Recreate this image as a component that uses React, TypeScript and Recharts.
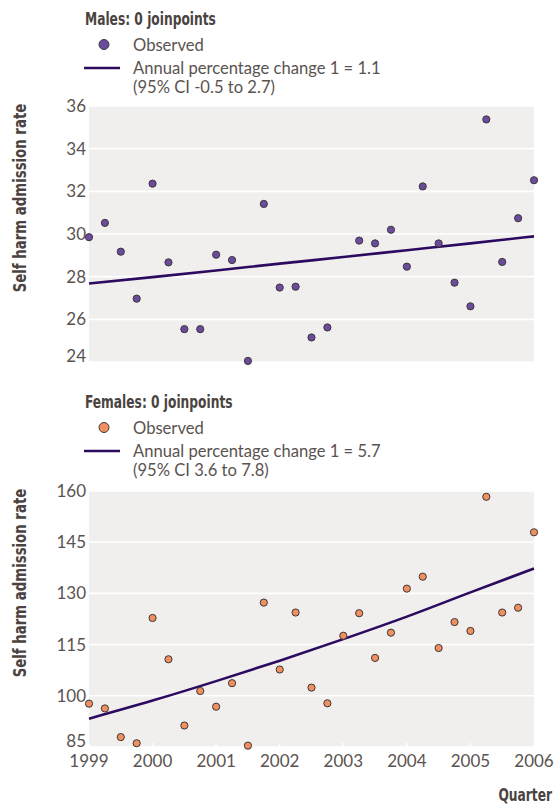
import React from 'react';
import { ComposedChart, Scatter, Line, XAxis, YAxis, CartesianGrid } from 'recharts';

// quarterly rates, 1999 Q1 .. 2006 Q1 (null = not shown)
const maleRates: (number | null)[] = [
  29.85, 30.52, 29.17, 26.97, 32.36, 28.67, 25.54, 25.54, 29.03, 28.78,
  24.05, 31.41, 27.49, 27.53, 25.15, 25.62, null, 29.69, 29.56, 30.2,
  28.47, 32.23, 29.56, 27.72, 26.61, 35.37, 28.69, 30.74, 32.52,
];
const femaleRates: number[] = [
  97.7, 96.3, 87.9, 86.1, 122.8, 110.7, 91.3, 101.4, 96.8, 103.7,
  85.4, 127.3, 107.7, 124.4, 102.4, 97.8, 117.6, 124.2, 111.1, 118.5,
  131.4, 134.9, 114.0, 121.6, 119.0, 158.3, 124.4, 125.8, 147.9,
];

const years = [1999, 2000, 2001, 2002, 2003, 2004, 2005, 2006];
// fitted joinpoint line, read at each year
const maleFit = [27.68, 27.98, 28.29, 28.61, 28.92, 29.24, 29.56, 29.89];
const femaleFit = [93.3, 98.6, 104.3, 110.3, 116.6, 123.2, 130.3, 137.3];

const maleTicks = [24, 26, 28, 30, 32, 34, 36];
const femaleTicks = [85, 100, 115, 130, 145, 160];

const TEXT = '#5a5350';
const DARK = '#4a4340';
const LINE = '#2c0a5f';
const PLOT_BG = '#f0efee';
const FONT = 'Lato, "Open Sans", sans-serif';
const BOLD = '"DejaVu Sans Condensed", "DejaVu Sans", sans-serif';

const toPoints = (rates: (number | null)[]) =>
  rates
    .map((v, i) => ({ t: 1999 + i / 4, v }))
    .filter((d) => d.v !== null);

const toFit = (vals: number[]) => years.map((y, i) => ({ t: y, v: vals[i] }));

function Dot(props: any) {
  const { cx, cy, fill } = props;
  return <circle cx={cx} cy={cy} r={3.6} fill={fill} stroke="#3e3636" strokeWidth={1} />;
}

function makeYTick(min: number) {
  return function YTick({ x, y, payload }: any) {
    const dy = payload.value === min ? -6 : 0;
    return (
      <text x={x - 3} y={y + dy} dy="0.35em" textAnchor="end" fill={TEXT} fontSize={17} fontFamily={FONT}>
        {payload.value}
      </text>
    );
  };
}

function makeXTick(showLabel: boolean) {
  return function XTick({ x, y, payload }: any) {
    return (
      <g>
        <line x1={x} x2={x} y1={y - 4} y2={y} stroke="#fff" strokeWidth={1.5} />
        {showLabel && (
          <text x={x} y={y + 20} textAnchor="middle" fill={TEXT} fontSize={17} fontFamily={FONT}>
            {payload.value}
          </text>
        )}
      </g>
    );
  };
}

interface PanelProps {
  top: number;
  height: number;
  marginTop: number;
  marginBottom: number;
  xHeight: number;
  rates: (number | null)[];
  fit: number[];
  ticks: number[];
  color: string;
  showX: boolean;
}

function Panel({ top, height, marginTop, marginBottom, xHeight, rates, fit, ticks, color, showX }: PanelProps) {
  const min = ticks[0];
  const max = ticks[ticks.length - 1];
  return (
    <div style={{ position: 'absolute', left: 0, top, width: 555, height }}>
      <ComposedChart width={555} height={height} margin={{ top: marginTop, right: 21, left: 0, bottom: marginBottom }}>
        <CartesianGrid vertical={false} fill={PLOT_BG} stroke="#fff" strokeWidth={1.6} />
        <XAxis
          type="number"
          dataKey="t"
          domain={[1999, 2006]}
          ticks={years}
          axisLine={false}
          tickLine={false}
          tickSize={0}
          tickMargin={0}
          height={xHeight}
          interval={0}
          tick={makeXTick(showX)}
        />
        <YAxis
          type="number"
          dataKey="v"
          domain={[min, max]}
          ticks={ticks}
          width={89}
          axisLine={false}
          tickLine={false}
          tickSize={0}
          tickMargin={0}
          interval={0}
          tick={makeYTick(min)}
        />
        <Line
          data={toFit(fit)}
          dataKey="v"
          type="monotone"
          stroke={LINE}
          strokeWidth={2.6}
          dot={false}
          activeDot={false}
          isAnimationActive={false}
        />
        <Scatter data={toPoints(rates)} dataKey="v" fill={color} shape={<Dot />} isAnimationActive={false} />
      </ComposedChart>
    </div>
  );
}

const boldText: React.CSSProperties = {
  fontFamily: BOLD,
  fontWeight: 700,
  fontSize: 17,
  color: DARK,
  whiteSpace: 'nowrap',
  lineHeight: '20px',
};

const legendText: React.CSSProperties = {
  position: 'absolute',
  left: 133,
  fontSize: 16.6,
  lineHeight: '18px',
  whiteSpace: 'nowrap',
};

function Legend({ top, title, color, apc, ci }: { top: number; title: string; color: string; apc: string; ci: string }) {
  return (
    <div style={{ position: 'absolute', left: 0, top, width: 555, fontFamily: FONT, color: TEXT }}>
      <div style={{ ...boldText, position: 'absolute', left: 85, top: 0, transform: 'scaleX(0.8)', transformOrigin: 'left center' }}>
        {title}
      </div>
      <svg style={{ position: 'absolute', left: 80, top: 0 }} width={50} height={80}>
        <circle cx={24} cy={35.5} r={5} fill={color} stroke="#3e3636" strokeWidth={1} />
        <line x1={4} x2={40} y1={59} y2={59} stroke={LINE} strokeWidth={2.6} />
      </svg>
      <div style={{ ...legendText, top: 26.5 }}>Observed</div>
      <div style={{ ...legendText, top: 49.5 }}>{apc}</div>
      <div style={{ ...legendText, top: 68.5 }}>{ci}</div>
    </div>
  );
}

function YLabel({ cy }: { cy: number }) {
  return (
    <div
      style={{
        ...boldText,
        position: 'absolute',
        left: 20,
        top: cy,
        transform: 'translate(-50%, -50%) rotate(-90deg) scaleX(0.87)',
      }}
    >
      Self harm admission rate
    </div>
  );
}

export default function App() {
  return (
    <div style={{ position: 'absolute', left: 0, top: 0, width: 555, height: 807, background: '#fff', overflow: 'hidden' }}>
      <Legend top={9} title="Males: 0 joinpoints" color="#6a4b9e" apc="Annual percentage change 1 = 1.1" ci="(95% CI -0.5 to 2.7)" />
      <Panel
        top={0}
        height={380}
        marginTop={106}
        marginBottom={18}
        xHeight={0}
        rates={maleRates}
        fit={maleFit}
        ticks={maleTicks}
        color="#6a4b9e"
        showX={false}
      />
      <YLabel cy={198} />

      <Legend top={392} title="Females: 0 joinpoints" color="#ef9060" apc="Annual percentage change 1 = 5.7" ci="(95% CI 3.6 to 7.8)" />
      <Panel
        top={390}
        height={417}
        marginTop={101}
        marginBottom={30}
        xHeight={30}
        rates={femaleRates}
        fit={femaleFit}
        ticks={femaleTicks}
        color="#ef9060"
        showX={true}
      />
      <YLabel cy={583} />

      <div
        style={{
          ...boldText,
          lineHeight: '18px',
          position: 'absolute',
          right: 3,
          top: 786,
          transform: 'scaleX(0.8)',
          transformOrigin: 'right center',
        }}
      >
        Quarter
      </div>
    </div>
  );
}
